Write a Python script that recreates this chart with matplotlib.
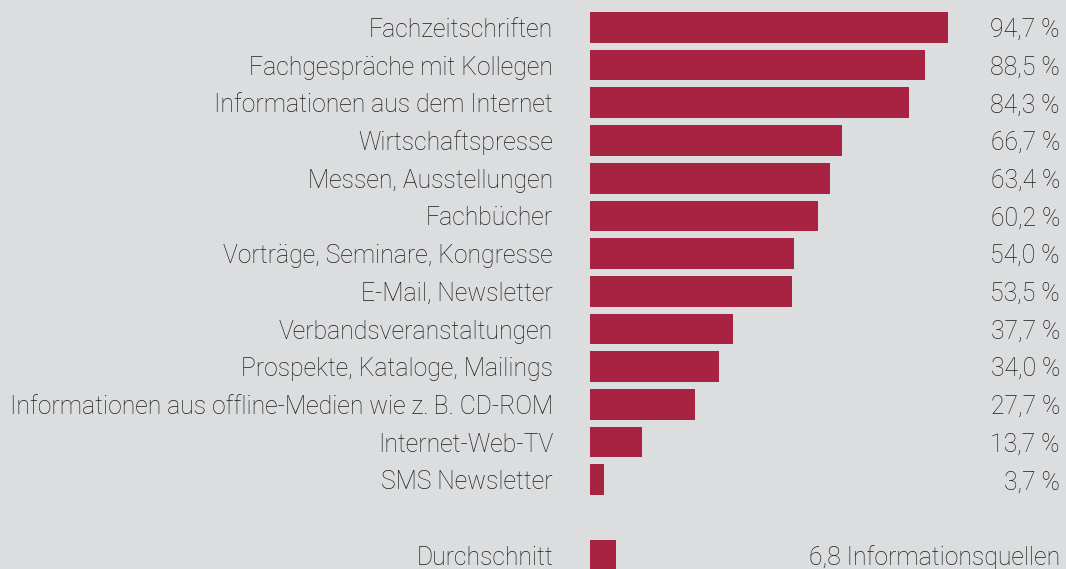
import matplotlib
matplotlib.use("Agg")
import matplotlib.pyplot as plt
from matplotlib import font_manager
from matplotlib.transforms import blended_transform_factory

categories = [
    "Fachzeitschriften",
    "Fachgespräche mit Kollegen",
    "Informationen aus dem Internet",
    "Wirtschaftspresse",
    "Messen, Ausstellungen",
    "Fachbücher",
    "Vorträge, Seminare, Kongresse",
    "E-Mail, Newsletter",
    "Verbandsveranstaltungen",
    "Prospekte, Kataloge, Mailings",
    "Informationen aus offline-Medien wie z.\u2009B. CD-ROM",
    "Internet-Web-TV",
    "SMS Newsletter",
]
values = [94.7, 88.5, 84.3, 66.7, 63.4, 60.2, 54.0, 53.5, 37.7, 34.0, 27.7, 13.7, 3.7]
value_labels = ["94,7 %", "88,5 %", "84,3 %", "66,7 %", "63,4 %", "60,2 %", "54,0 %",
                "53,5 %", "37,7 %", "34,0 %", "27,7 %", "13,7 %", "3,7 %"]
avg_label = "Durchschnitt"
avg_value = 6.8
avg_text = "6,8 Informationsquellen"

BG = "#dcdddf"
BAR = "#a82341"
TXT = "#1c1c1c"

names = {f.name for f in font_manager.fontManager.ttflist}
fam = ["Roboto", "DejaVu Sans"] if "Roboto" in names else ["DejaVu Sans"]
plt.rcParams["font.family"] = fam

W, H = 1066, 569
fig = plt.figure(figsize=(W / 100, H / 100), dpi=100, facecolor=BG)
x0 = 590
px_per_unit = 3.78
ax = fig.add_axes([x0 / W, 0, (W - x0) / W, 1])
ax.set_facecolor(BG)
row = 37.7
c0 = 27.4
ax.set_xlim(0, (W - x0) / px_per_unit)
ax.set_ylim((H - c0) / row, -c0 / row)
ax.axis("off")

ypos = list(range(len(values)))
avg_y = len(values) + 1
ax.barh(ypos, values, height=0.815, color=BAR, left=0)
ax.barh([avg_y], [avg_value], height=0.815, color=BAR, left=0)

tr = blended_transform_factory(fig.transFigure, ax.transData)
lx = 553 / W
rx = 1060 / W
fs = 17.85
off = 9.5 / row
kw = dict(transform=tr, ha="right", va="baseline", fontsize=fs, color=TXT,
          family=fam, fontweight="light")
for y, cat, lab in zip(ypos, categories, value_labels):
    fig.text(lx, y + off, cat, **kw)
    fig.text(rx, y + off, lab, **kw)
fig.text(lx, avg_y + off, avg_label, **kw)
fig.text(rx, avg_y + off, avg_text, **kw)

fig.savefig("out.png", dpi=100, facecolor=BG)
